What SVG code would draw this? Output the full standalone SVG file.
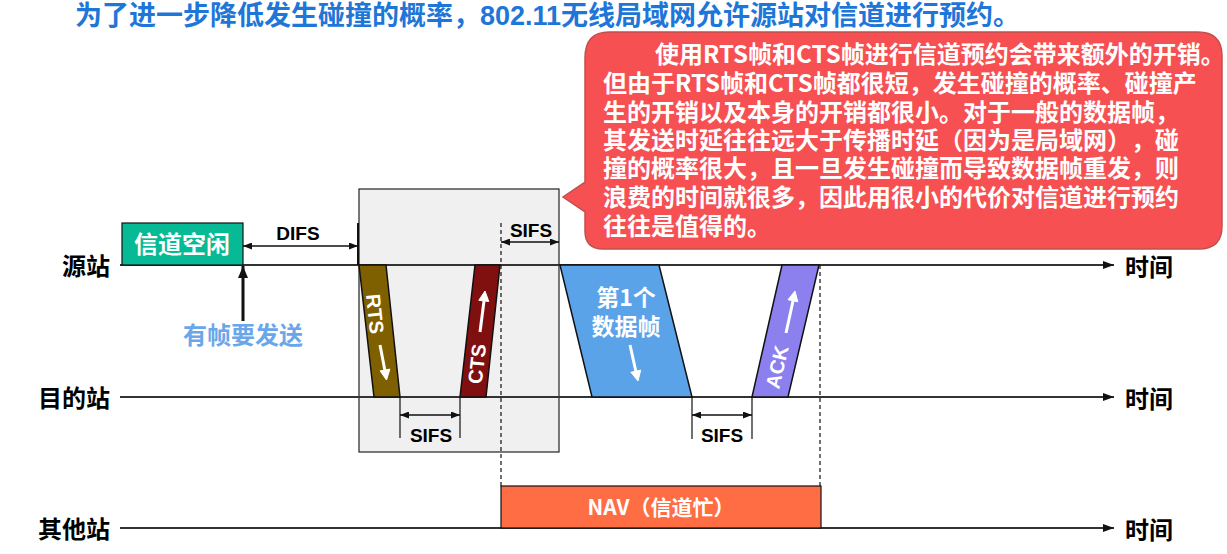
<svg xmlns="http://www.w3.org/2000/svg" width="1227" height="554" viewBox="0 0 1227 554">
<style>
text{text-spacing-trim:space-all}
.cjk{font-family:"Noto Sans CJK SC","Liberation Sans",sans-serif;font-weight:bold}
.lat{font-family:"Liberation Sans","Noto Sans CJK SC",sans-serif;font-weight:bold}
.tl{stroke:#333;stroke-width:2;fill:none}
.frame{stroke:#111;stroke-width:1.5}
.dim{stroke:#111;stroke-width:1.3;fill:none}
.tick{stroke:#111;stroke-width:1.2}
.dash{stroke:#111;stroke-width:1.2;stroke-dasharray:4 3;fill:none}
.wa{stroke:#fff;stroke-width:3;fill:none}
.lbl{font-size:24px;fill:#000}
.wt{fill:#fff}
</style>
<defs>
<marker id="ta" viewBox="0 0 11 8" refX="11" refY="4" markerWidth="11" markerHeight="8" orient="auto" markerUnits="userSpaceOnUse"><path d="M0,0 L11,4 L0,8 z" fill="#111"/></marker>
<marker id="da" viewBox="0 0 9 7" refX="9" refY="3.5" markerWidth="9" markerHeight="7" orient="auto-start-reverse" markerUnits="userSpaceOnUse"><path d="M0,0 L9,3.5 L0,7 z" fill="#111"/></marker>
<marker id="ua" viewBox="0 0 12 10" refX="12" refY="5" markerWidth="12" markerHeight="10" orient="auto" markerUnits="userSpaceOnUse"><path d="M0,0 L12,5 L0,10 z" fill="#111"/></marker>
</defs>

<text id="title" class="lat" x="75" y="25" font-size="27" fill="#1E76D8">为了进一步降低发生碰撞的概率，802.11无线局域网允许源站对信道进行预约。</text>

<g id="reserve-box"><rect x="359" y="189" width="200" height="263" fill="#F0F0F0" stroke="#222" stroke-width="1.2"/></g>

<g id="timelines">
<line class="tl" x1="120" y1="265" x2="1114" y2="265" marker-end="url(#ta)"/>
<line class="tl" x1="120" y1="397" x2="1114" y2="397" marker-end="url(#ta)"/>
<line class="tl" x1="120" y1="528" x2="1114" y2="528" marker-end="url(#ta)"/>
<text class="cjk lbl" x="110" y="275" text-anchor="end">源站</text>
<text class="cjk lbl" x="110" y="407" text-anchor="end">目的站</text>
<text class="cjk lbl" x="110" y="538" text-anchor="end">其他站</text>
<text class="cjk lbl" x="1125" y="276">时间</text>
<text class="cjk lbl" x="1125" y="408">时间</text>
<text class="cjk lbl" x="1125" y="539">时间</text>
</g>

<g id="idle">
<rect x="122" y="223" width="121" height="42" fill="#06BA96" stroke="#111" stroke-width="1.2"/>
<text class="cjk wt" x="182" y="253" font-size="24" text-anchor="middle">信道空闲</text>
</g>

<g id="nav">
<rect x="501" y="486" width="320" height="42" fill="#FF6D44" stroke="#111" stroke-width="1.2"/>
<text class="cjk wt" x="661" y="515" font-size="21" text-anchor="middle">NAV（信道忙）</text>
</g>

<g id="rts">
<polygon class="frame" points="359,265 386,265 400,397 374,397" fill="#7F6000"/>
<text class="lat wt" font-size="20" text-anchor="middle" transform="translate(375,314) rotate(84)" x="0" y="7">RTS</text>
<line class="wa" x1="380" y1="345" x2="385" y2="371"/>
<polygon points="386.5,380 389.9,369.1 380.1,370.9" fill="#fff" stroke="#fff" stroke-width="1"/>
</g>

<g id="cts">
<polygon class="frame" points="475,265 500,265 486,397 460,397" fill="#801010"/>
<text class="lat wt" font-size="20" text-anchor="middle" transform="translate(477,364) rotate(-84)" x="0" y="7">CTS</text>
<line class="wa" x1="480" y1="332" x2="484" y2="301"/>
<polygon points="485,291 488.8,301.5 478.8,300.3" fill="#fff" stroke="#fff" stroke-width="1"/>
</g>

<g id="data">
<polygon class="frame" points="560,265 659,265 692,397 592,397" fill="#5BA3E9"/>
<text class="cjk wt" x="626" y="306" font-size="23" text-anchor="middle">第1个</text>
<text class="cjk wt" x="626" y="335" font-size="23" text-anchor="middle">数据帧</text>
<line class="wa" x1="630" y1="345" x2="636" y2="372"/>
<polygon points="638,381 640.7,370.1 630.9,372.3" fill="#fff" stroke="#fff" stroke-width="1"/>
</g>

<g id="ack">
<polygon class="frame" points="782,265 819,265 788,397 752,397" fill="#8C80EE"/>
<text class="lat wt" font-size="20" text-anchor="middle" transform="translate(777,367) rotate(-77)" x="0" y="7">ACK</text>
<line class="wa" x1="786" y1="333" x2="793" y2="301"/>
<polygon points="795,291 797.8,301.8 788,299.7" fill="#fff" stroke="#fff" stroke-width="1"/>
</g>

<g id="callout">
<path d="M609,32 H1198 Q1222,32 1222,56 V226 Q1222,249 1199,249 H603 Q585,249 585,231 V212 L563,197 L585,182 V58 Q585,32 609,32 Z" fill="#F65052" stroke="#C0504D" stroke-width="1.5"/>
<g class="cjk wt" font-size="24">
<text x="655" y="63">使用RTS帧和CTS帧进行信道预约会带来额外的开销。</text>
<text x="603" y="92">但由于RTS帧和CTS帧都很短，发生碰撞的概率、碰撞产</text>
<text x="603" y="121">生的开销以及本身的开销都很小。对于一般的数据帧，</text>
<text x="603" y="149">其发送时延往往远大于传播时延（因为是局域网），碰</text>
<text x="603" y="177">撞的概率很大，且一旦发生碰撞而导致数据帧重发，则</text>
<text x="603" y="206">浪费的时间就很多，因此用很小的代价对信道进行预约</text>
<text x="603" y="235">往往是值得的。</text>
</g>
</g>

<g id="connectors">
<line class="dash" x1="501" y1="223" x2="501" y2="486"/>
<line class="dash" x1="820" y1="265" x2="820" y2="486"/>
<line x1="358" y1="223" x2="358" y2="265" stroke="#111" stroke-width="2"/>
<line class="dim" x1="243" y1="246" x2="358" y2="246" marker-start="url(#da)" marker-end="url(#da)"/>
<text class="lat" x="298" y="240" font-size="19" text-anchor="middle">DIFS</text>
<line class="dim" x1="501" y1="242" x2="559" y2="242" marker-start="url(#da)" marker-end="url(#da)"/>
<text class="lat" x="531" y="237" font-size="19" text-anchor="middle">SIFS</text>
<line class="tick" x1="400" y1="397" x2="400" y2="438"/>
<line class="tick" x1="460" y1="397" x2="460" y2="438"/>
<line class="dim" x1="400" y1="415" x2="460" y2="415" marker-start="url(#da)" marker-end="url(#da)"/>
<text class="lat" x="431" y="442" font-size="19" text-anchor="middle">SIFS</text>
<line class="tick" x1="692" y1="397" x2="692" y2="439"/>
<line class="tick" x1="752" y1="397" x2="752" y2="439"/>
<line class="dim" x1="692" y1="415" x2="752" y2="415" marker-start="url(#da)" marker-end="url(#da)"/>
<text class="lat" x="722" y="442" font-size="19" text-anchor="middle">SIFS</text>
<line x1="243" y1="321" x2="243" y2="266" stroke="#111" stroke-width="3" marker-end="url(#ua)"/>
<text class="cjk" x="243" y="344" font-size="24" fill="#6AA6EA" text-anchor="middle">有帧要发送</text>
</g>
</svg>
